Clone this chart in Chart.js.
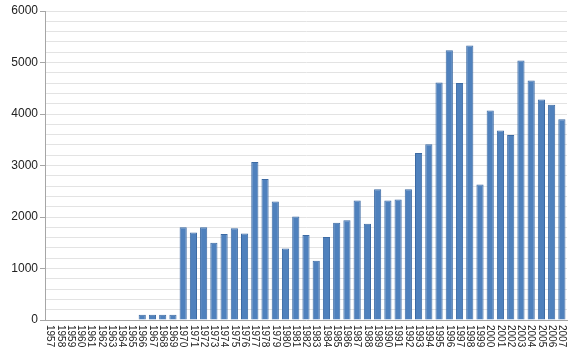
<!DOCTYPE html>
<html>
<head>
<meta charset="utf-8">
<script src="https://cdn.jsdelivr.net/npm/chart.js@4"></script>
<style>
  html, body { margin: 0; padding: 0; background: #fff; }
  #wrap { width: 580px; height: 360px; }
</style>
</head>
<body>
<div id="wrap"><canvas id="chart" width="580" height="360"></canvas></div>
<script>
/* ==================================== */
/*                Data                  */
/* ==================================== */
const years = [];
for (let y = 1957; y <= 2007; y++) years.push(String(y));

const counts = [
  0, 0, 0, 0, 0, 0, 0, 0, 0,            // 1957-1965
  100, 100, 100, 100,                    // 1966-1969
  1800, 1700, 1800, 1500, 1670, 1780, 1680, 3070, 2740, 2300, // 1970-1979
  1390, 2010, 1650, 1150, 1610, 1890, 1935, 2320, 1870, 2540, // 1980-1989
  2320, 2340, 2540, 3245, 3415, 4610, 5240, 4600, 5330, 2630, // 1990-1999
  4070, 3680, 3590, 5040, 4650, 4280, 4180, 3900              // 2000-2007
];

const yMax = 6000;
const yStep = 200;
const yLabelStep = 1000;

/* ==================================== */
/*     Labels drawn top-to-bottom       */
/* ==================================== */
const clockwiseLabels = {
  id: "clockwiseLabels",
  afterDraw(chart) {
    const x = chart.scales.x;
    const ctx = chart.ctx;
    ctx.save();
    ctx.fillStyle = "#222";
    ctx.font = "10px 'Liberation Sans', Arial, sans-serif";
    ctx.textAlign = "left";
    ctx.textBaseline = "middle";
    x.ticks.forEach((t, i) => {
      const px = x.getPixelForTick(i);
      ctx.save();
      ctx.translate(px, x.top + 5);
      ctx.rotate(Math.PI / 2);
      ctx.fillText(x.getLabelForValue(t.value), 0, 0);
      ctx.restore();
    });
    ctx.restore();
  }
};

/* ==================================== */
/*               Chart                  */
/* ==================================== */
new Chart(document.getElementById("chart"), {
  type: "bar",
  data: {
    labels: years,
    datasets: [
      {
        label: "N/A",
        data: counts,
        backgroundColor: "#4f81bd",
        borderColor: "#3c6aa3",
        borderWidth: 1,
        borderSkipped: "bottom",
        barPercentage: 0.7,
        categoryPercentage: 1.0,
      },
    ],
  },
  options: {
    responsive: false,
    animation: false,
    layout: { padding: { top: 11, right: 13, left: 0, bottom: 0 } },
    plugins: {
      legend: { display: false },
      tooltip: { enabled: false },
    },
    scales: {
      x: {
        grid: { display: false },
        border: { display: true, color: "#a6a6a6", width: 1 },
        ticks: {
          color: "rgba(0,0,0,0)",
          autoSkip: false,
          minRotation: 90,
          maxRotation: 90,
          font: { size: 10, family: "'Liberation Sans', Arial, sans-serif" },
        },
        afterFit(scale) { scale.height = 40; },
      },
      y: {
        min: 0,
        max: yMax,
        border: { display: true, color: "#a6a6a6", width: 1 },
        grid: {
          color: "#e3e3e3",
          tickLength: 5,
          tickColor: (c) => (c.tick && c.tick.value % yLabelStep === 0 ? "#a6a6a6" : "rgba(0,0,0,0)"),
        },
        ticks: {
          stepSize: yStep,
          autoSkip: false,
          padding: 2,
          color: "#222",
          font: { size: 12, family: "'Liberation Sans', Arial, sans-serif" },
          callback: (v) => (v % yLabelStep === 0 ? v : ""),
        },
        afterFit(scale) { scale.width = 45; },
      },
    },
  },
  plugins: [clockwiseLabels],
});
</script>
</body>
</html>
